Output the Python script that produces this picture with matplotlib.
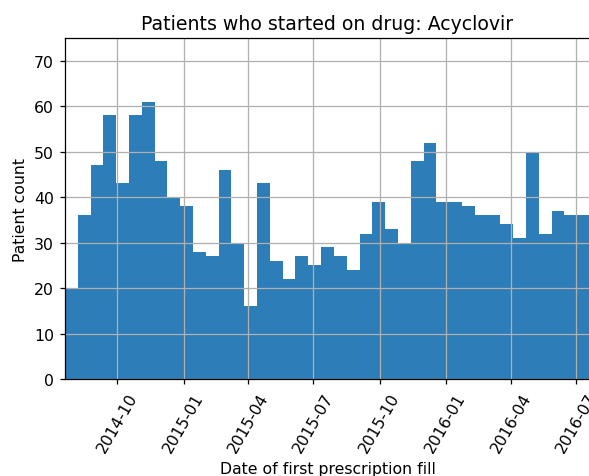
import numpy as np
import matplotlib
matplotlib.use("Agg")
import matplotlib.pyplot as plt
import matplotlib.dates as mdates

# bi-weekly-ish bins of first fill dates, counts
first_bin_start = "2014-07-20"
last_bin_end = "2016-07-20"
counts = [20, 36, 47, 58, 43, 58, 61, 48, 40, 38,
          28, 27, 46, 30, 16, 43, 26, 22, 27, 25,
          29, 27, 24, 32, 39, 33, 30, 48, 52, 39,
          39, 38, 36, 36, 34, 31, 50, 32, 37, 36, 36]

drug = "Acyclovir"

DPI = 113


def main() -> None:
    start = mdates.date2num(np.datetime64(first_bin_start))
    end = mdates.date2num(np.datetime64(last_bin_end))
    edges = np.linspace(start, end, len(counts) + 1)
    centers = (edges[:-1] + edges[1:]) / 2

    fig = plt.figure(figsize=(589 / DPI, 477 / DPI), dpi=DPI)
    ax = fig.add_axes([65 / 589, 97 / 477, 525 / 589, 341 / 477])

    ax.hist(centers, bins=edges, weights=counts, color="#2c7db8")
    ax.xaxis_date()
    ax.xaxis.set_major_locator(mdates.MonthLocator(bymonth=[1, 4, 7, 10]))
    ax.xaxis.set_major_formatter(mdates.DateFormatter("%Y-%m"))
    ax.set_xlim(start, end)
    ax.set_ylim(0, 75)
    ax.grid(True)

    plt.setp(ax.get_xticklabels(), rotation=60)
    ax.set_title(f"Patients who started on drug: {drug}")
    ax.set_xlabel("Date of first prescription fill")
    ax.set_ylabel("Patient count")

    fig.savefig("out.png", dpi=DPI)


main()
